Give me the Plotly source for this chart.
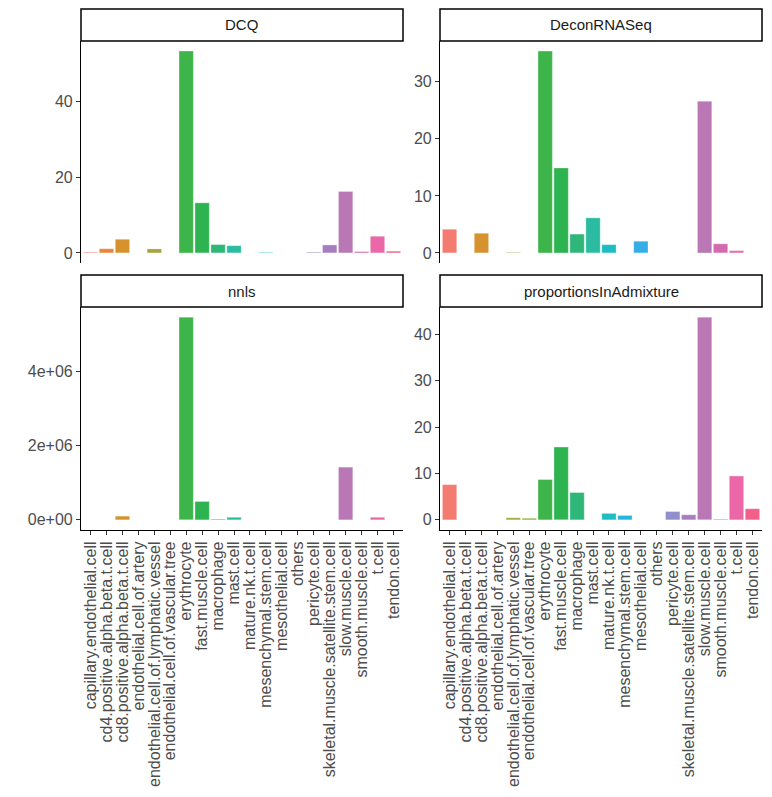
import plotly.graph_objects as go

categories = [
    "capillary.endothelial.cell", "cd4.positive.alpha.beta.t.cell",
    "cd8.positive.alpha.beta.t.cell", "endothelial.cell.of.artery",
    "endothelial.cell.of.lymphatic.vessel", "endothelial.cell.of.vascular.tree",
    "erythrocyte", "fast.muscle.cell", "macrophage", "mast.cell",
    "mature.nk.t.cell", "mesenchymal.stem.cell", "mesothelial.cell", "others",
    "pericyte.cell", "skeletal.muscle.satellite.stem.cell", "slow.muscle.cell",
    "smooth.muscle.cell", "t.cell", "tendon.cell",
]

dcq = [0.2, 1.1, 3.6, 0, 1.05, 0, 53.2, 13.2, 2.2, 1.9,
       0, 0.15, 0, 0, 0.2, 2.1, 16.2, 0.35, 4.4, 0.45]
deconrnaseq = [4.15, 0, 3.45, 0, 0.1, 0, 35.4, 14.9, 3.3, 6.15,
               1.45, 0, 2.05, 0, 0, 0, 26.6, 1.6, 0.4, 0]
nnls = [0, 0, 1.0e5, 0, 0, 0, 5.46e6, 4.95e5, 2.0e4, 7.0e4,
        0, 0, 0, 0, 0, 0, 1.42e6, 0, 7.0e4, 0]
proportions = [7.6, 0, 0, 0, 0.45, 0.35, 8.7, 15.7, 5.9, 0,
               1.4, 0.95, 0, 0, 1.8, 1.1, 43.75, 0.15, 9.46, 2.4]

panel_titles = ["DCQ", "DeconRNASeq", "nnls", "proportionsInAdmixture"]
panel_values = [dcq, deconrnaseq, nnls, proportions]
panel_ticks = [[0, 20, 40], [0, 10, 20, 30], [0, 2e6, 4e6], [0, 10, 20, 30, 40]]
panel_ticktext = [["0", "20", "40"], ["0", "10", "20", "30"],
                  ["0e+00", "2e+06", "4e+06"], ["0", "10", "20", "30", "40"]]

colors = [
    "#F37B70", "#E8853A", "#D6922C", "#BF9B2A", "#A3A53B", "#8DAE3C",
    "#3DB54A", "#2DB34F", "#2FB77A", "#2BBBA0", "#1EBDC4", "#22B8DE",
    "#35AEE8", "#5DA3E8", "#8F8FCC", "#A87CC0", "#B978B5", "#D46BB0",
    "#EC67A8", "#F06088",
]

OFF = 8  # default page margin of the html body
W, H = 772 - 2 * OFF, 797 - 2 * OFF
# pixel boxes of plot panels in page coordinates (x0, x1, ytop, ybottom)
px_boxes = [(81, 403, 41, 263), (440, 762, 41, 263),
            (81, 403, 307, 530), (440, 762, 307, 530)]
strip_h = 32

font_family = "Liberation Sans, Arial, sans-serif"
tick_size = 16
fig = go.Figure()
layout = dict(
    width=W, height=H, margin=dict(l=0, r=0, t=0, b=0, autoexpand=False),
    plot_bgcolor="white", paper_bgcolor="white", showlegend=False,
    font=dict(family=font_family, size=tick_size, color="#4D4D4D"),
)
shapes = []
annotations = []
xidx = list(range(len(categories)))

for i, (title, vals) in enumerate(zip(panel_titles, panel_values)):
    n = "" if i == 0 else str(i + 1)
    xa, ya = "x" + n, "y" + n
    fig.add_trace(go.Bar(
        x=xidx, y=vals, xaxis=xa, yaxis=ya,
        marker=dict(color=colors, line=dict(color="rgba(255,255,255,0.6)", width=0.5)),
        width=0.9, hovertext=categories,
    ))
    x0, x1, yt, yb = [v - OFF for v in px_boxes[i]]
    dx = [x0 / W, x1 / W]
    dy = [1 - yb / H, 1 - yt / H]
    bottom = i >= 2
    m = max(vals)
    layout["xaxis" + n] = dict(
        domain=dx, anchor=ya, range=[-0.6, len(categories) - 0.4],
        tickmode="array", tickvals=xidx,
        ticktext=categories if bottom else [""] * len(categories),
        showticklabels=bottom, tickangle=-90, automargin=False,
        ticks="outside" if bottom else "", ticklen=4, tickcolor="#333333",
        showline=bottom, linecolor="black", linewidth=1.2,
        showgrid=False, zeroline=False,
        tickfont=dict(size=tick_size, color="#4D4D4D", family=font_family),
    )
    layout["yaxis" + n] = dict(
        domain=dy, anchor=xa, range=[-0.05 * m, 1.05 * m], automargin=False,
        tickmode="array", tickvals=panel_ticks[i], ticktext=panel_ticktext[i],
        ticks="outside", ticklen=4, tickcolor="#333333",
        showline=True, linecolor="black", linewidth=1.2,
        showgrid=False, zeroline=False,
        tickfont=dict(size=tick_size, color="#4D4D4D", family=font_family),
    )
    # strip box
    sy0 = 1 - yt / H
    sy1 = 1 - (yt - strip_h) / H
    shapes.append(dict(type="rect", xref="paper", yref="paper",
                       x0=dx[0], x1=dx[1], y0=sy0, y1=sy1,
                       line=dict(color="black", width=1.5), fillcolor="white"))
    annotations.append(dict(text=title, xref="paper", yref="paper",
                            x=(dx[0] + dx[1]) / 2, y=(sy0 + sy1) / 2,
                            showarrow=False, xanchor="center", yanchor="middle",
                            font=dict(size=15, color="#1A1A1A", family=font_family)))

layout["shapes"] = shapes
layout["annotations"] = annotations
fig.update_layout(**layout)
fig.write_html("out.html")
